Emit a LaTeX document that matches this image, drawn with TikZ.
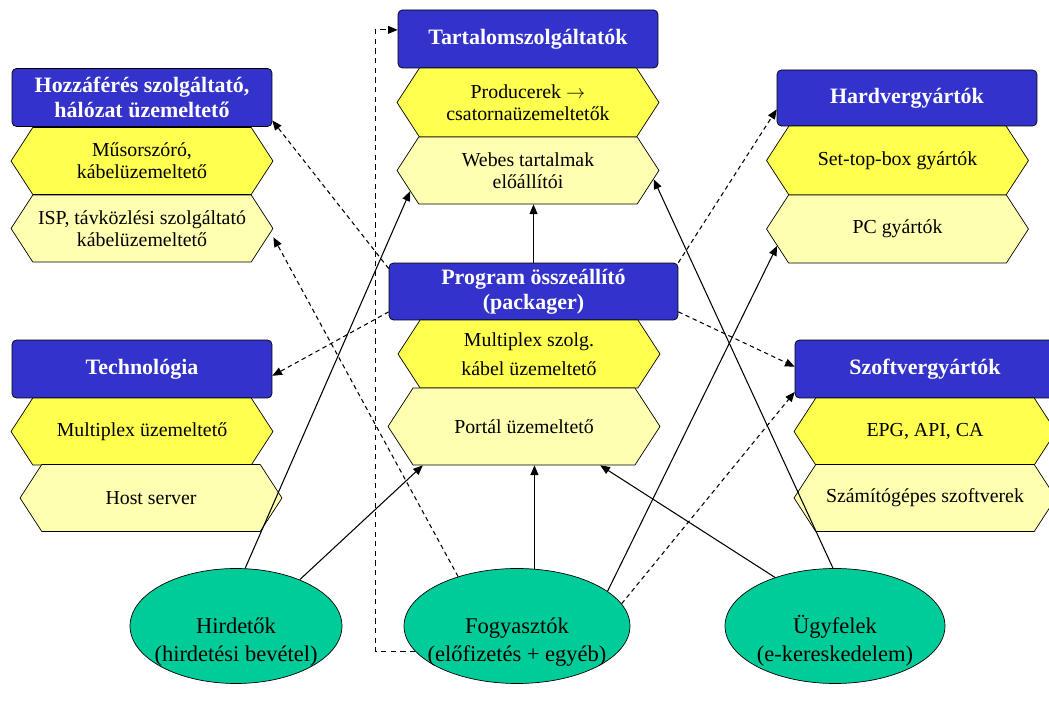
\documentclass[tikz,border=0pt]{standalone}
\usepackage{fontspec}
\setmainfont{Liberation Serif}
\usetikzlibrary{shapes.symbols,shapes.geometric,arrows.meta}

\definecolor{hdrblue}{RGB}{51,51,204}
\definecolor{hexdark}{RGB}{255,255,80}
\definecolor{hexlight}{RGB}{255,255,178}
\definecolor{custteal}{RGB}{0,204,153}

% two-line text, set a bit below the ellipse centre
\newcommand{\custtext}[2]{\makebox[0pt]{\raisebox{-12pt}[0pt][0pt]{\begin{tabular}{@{}c@{}}#1\\#2\end{tabular}}}}

\begin{document}
\begin{tikzpicture}[
  x=0.02cm, y=-0.02cm,
  hdr/.style={rectangle, draw, rounded corners=2.5pt, fill=hdrblue, text=white, align=center,
    minimum width=5.2cm, minimum height=1.16cm, inner sep=1pt,
    font=\fontsize{12.5}{14}\selectfont\bfseries},
  hex/.style={signal, signal to=east and west, signal pointer angle=114, draw, align=center,
    minimum width=5.24cm, minimum height=1.34cm, inner sep=1pt,
    font=\fontsize{11.3}{12.5}\selectfont},
  hexa/.style={hex, fill=hexdark},
  hexb/.style={hex, fill=hexlight},
  cust/.style={ellipse, draw, fill=custteal, inner sep=0pt,
    minimum height=2.3cm, font=\fontsize{12.8}{16}\selectfont},
  arrow/.style={-{Triangle[length=5.5pt,width=4.5pt]}, line width=0.6pt},
  darrow/.style={arrow, dash pattern=on 2.5pt off 2pt},
]
\useasboundingbox (0,0) rectangle (1049,705);

% ══ Column positions ══
\def\xa{142}
\def\xb{528}
\def\xc{903}
\def\xd{925}

% ══ Left column ══
\node[hdr] (hozz) at (\xa, 97.5) {Hozzáférés szolgáltató,\\hálózat üzemeltető};
\node[hexa] (musor) at (\xa, 161) {Műsorszóró,\\kábelüzemeltető};
\node[hexb] (isp) at (\xa, 228.5) {ISP, távközlési szolgáltató\\kábelüzemeltető};

\node[hdr] (tech) at (\xa, 369) {Technológia};
\node[hexa] (mplex) at (\xa, 431.5) {Multiplex üzemeltető};
\node[hexb] (host) at (\xa+9, 498) {Host server};

% ══ Middle column ══
\node[hdr] (tart) at (\xb, 39) {Tartalomszolgáltatók};
\node[hexa, minimum height=1.38cm] (prod) at (\xb, 102.5) {Producerek $\rightarrow$\\csatornaüzemeltetők};
\node[hexb] (webes) at (\xb, 170.5) {Webes tartalmak\\előállítói};

\node[hdr, minimum width=5.78cm, minimum height=1.14cm] (prog) at (\xb+5.5, 291.5) {Program összeállító\\(packager)};
\node[hexa, minimum height=1.36cm] (mszolg) at (\xb+1, 354) {Multiplex szolg.\\[4pt]kábel üzemeltető};
\node[hexb, minimum width=5.44cm, minimum height=1.54cm] (portal) at (\xb-4, 426.5) {Portál üzemeltető};

% ══ Right column ══
\node[hdr, minimum height=1.12cm] (hard) at (\xc+4, 98) {Hardvergyártók};
\node[hexa, minimum height=1.38cm] (stb) at (\xc-5.5, 160.5) {Set-top-box gyártók};
\node[hexb, minimum height=1.36cm] (pc) at (\xc-5.5, 229) {PC gyártók};

\node[hdr] (szoft) at (\xd, 369) {Szoftvergyártók};
\node[hexa] (epg) at (\xd, 431.5) {EPG, API, CA};
\node[hexb] (szamit) at (\xd, 498) {Számítógépes szoftverek};

% ══ Customers ══
\node[cust, minimum width=4.24cm] (hird) at (236, 626) {\custtext{Hirdetők}{(hirdetési bevétel)}};
\node[cust, minimum width=4.52cm] (fogy) at (517, 626) {\custtext{Fogyasztók}{(előfizetés + egyéb)}};
\node[cust, minimum width=4.4cm] (ugyf) at (835, 626) {\custtext{Ügyfelek}{(e-kereskedelem)}};

% ══ Money flow (solid) ══
\draw[arrow] (hird.81) -- (webes.190);
\draw[arrow] (hird.36) -- (portal.201);
\draw[arrow] (fogy.73) -- (fogy.73 |- portal.south);
\draw[arrow] (fogy.21) -- (pc.188);
\draw[arrow] (ugyf.141) -- (portal.333);
\draw[arrow] (ugyf.92) -- (webes.356);
\draw[arrow] (prog.north) -- (prog.north |- webes.south);

% ══ Dashed links ══
\draw[darrow, dash pattern=on 3pt off 2.5pt] (fogy.194) -- ++(-40,0) |- (tart.176);
\draw[darrow] (fogy.140) -- ([yshift=-5pt]isp.east);
\draw[darrow] (fogy.12) -- (szoft.190);
\draw[darrow] (prog.171) -- (hozz.350);
\draw[darrow] (prog.188) -- (tech.357);
\draw[darrow] (prog.north east) -- (hard.185);
\draw[darrow] (prog.352) -- (szoft.179);

\end{tikzpicture}
\end{document}
